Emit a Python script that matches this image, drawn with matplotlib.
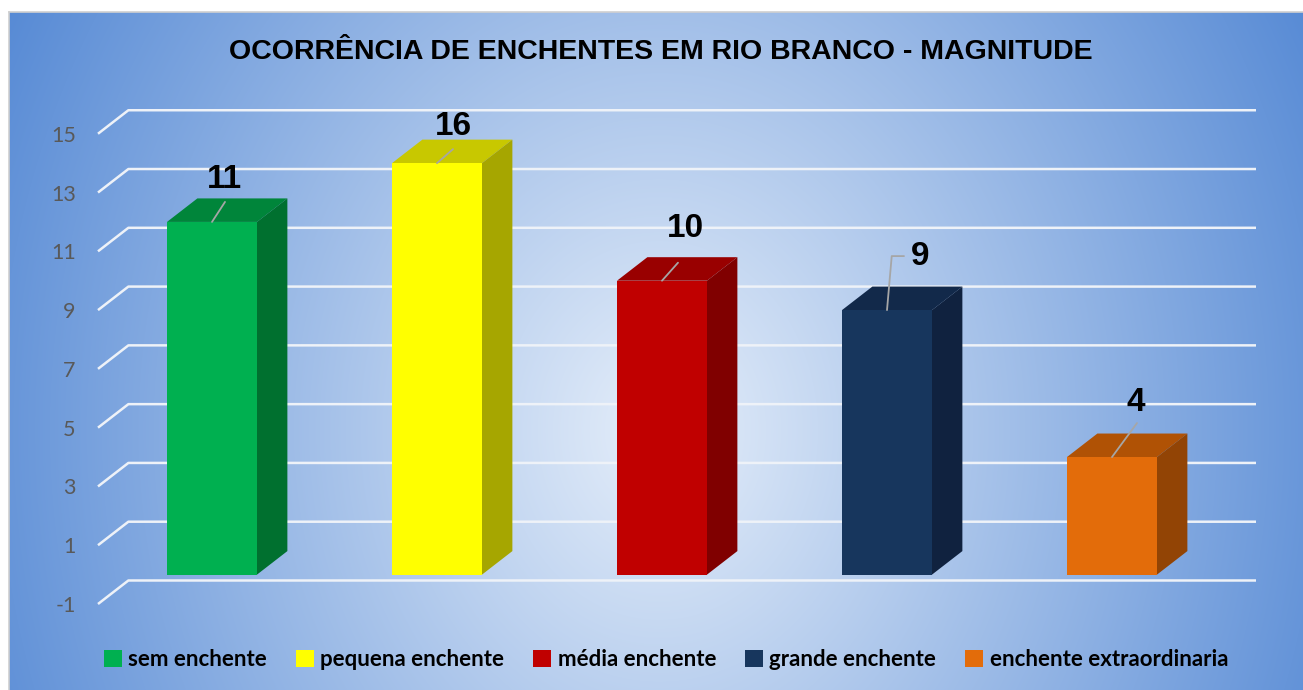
"""Ocorrência de enchentes em Rio Branco - 3D style bar chart."""
import numpy as np
import matplotlib.pyplot as plt
from matplotlib.patches import Polygon, Patch

plt.rcParams["axes.unicode_minus"] = False

# data
categories = ["sem enchente", "pequena enchente", "média enchente",
              "grande enchente", "enchente extraordinaria"]
bar_heights = [12, 14, 10, 9, 4]          # heights as drawn on the axis
label_texts = ["11", "16", "10", "9", "4"]  # data labels as printed
yticks = list(range(-1, 16, 2))

front_colors = ["#00b050", "#ffff00", "#c00000", "#17365d", "#e36c0a"]
top_colors = ["#00853a", "#c8c800", "#990000", "#12294a", "#b05205"]
side_colors = ["#00702f", "#a6a600", "#800000", "#10223f", "#924405"]

# label offsets (pixels) from the top-front centre of each bar
label_offsets = [(12, 42), (16, 37), (23, 52), (33, 54), (24, 55)]
leader_ends = [(13, 20), (16, 14), (16, 18), (17, 54), (25, 34)]

W, H = 1303, 690
fig = plt.figure(figsize=(W / 100, H / 100), dpi=100)

# background gradient
bg = fig.add_axes([9 / W, 0, (W - 9) / W, (H - 12) / H], zorder=-1)
bw, bh = W - 9, H - 12
X, Y = np.meshgrid(np.arange(bw), np.arange(bh))
cx, cy = 650, 418
t = np.sqrt(((X - cx) / 820.0) ** 2 + ((Y - cy) / 980.0) ** 2)
t = np.clip(t, 0, 1)
c0 = np.array([0.90, 0.935, 0.98])
c1 = np.array([0.28, 0.50, 0.82])
img = c0[None, None, :] + (c1 - c0)[None, None, :] * t[:, :, None]
bg.imshow(img, aspect="auto", extent=[0, 1, 0, 1], origin="upper")
bg.set_xticks([])
bg.set_yticks([])
for side in ["right", "bottom"]:
    bg.spines[side].set_visible(False)
for side in ["top", "left"]:
    bg.spines[side].set_color("#d0d0d0")
    bg.spines[side].set_linewidth(1.2)

# main axes: front plane
x_lo, x_hi = (98 - 212) / 225, (1256 - 212) / 225
ax = fig.add_axes([98 / W, (H - 604) / H, (1256 - 98) / W, (604 - 133.75) / H])
ax.patch.set_visible(False)
ax.set_xlim(x_lo, x_hi)
ax.set_ylim(-1, 15)
for s in ax.spines.values():
    s.set_visible(False)
ax.set_xticks([])
ax.set_yticks(yticks)
ax.tick_params(axis="y", length=0, pad=16, labelcolor="#595959", labelsize=15.5)
for lab in ax.get_yticklabels():
    lab.set_fontfamily("Lato")

ddx, ddy = 0.135, 0.8  # depth offset in data units

# gridlines with diagonal floor/wall joins
for v in yticks:
    ax.plot([x_lo, x_lo + ddx, x_hi], [v, v + ddy, v + ddy],
            color="#eef2f8", lw=1.8, zorder=1, clip_on=False,
            solid_capstyle="butt")

# bars
xs = np.arange(len(categories))
bw_ = 0.4
ax.bar(xs, bar_heights, width=bw_, color=front_colors, zorder=4)
for i, h in enumerate(bar_heights):
    l, r = i - bw_ / 2, i + bw_ / 2
    top = Polygon([(l, h), (r, h), (r + ddx, h + ddy), (l + ddx, h + ddy)],
                  closed=True, facecolor=top_colors[i], edgecolor="none",
                  zorder=3, clip_on=False)
    side = Polygon([(r, 0), (r + ddx, ddy), (r + ddx, h + ddy), (r, h)],
                   closed=True, facecolor=side_colors[i], edgecolor="none",
                   zorder=3, clip_on=False)
    ax.add_patch(top)
    ax.add_patch(side)

# data labels with leader lines
for i, h in enumerate(bar_heights):
    conn = "arc3"
    if i == 3:
        conn = "angle,angleA=0,angleB=85,rad=0"
    ax.annotate("", xy=(i, h), xytext=leader_ends[i], textcoords="offset pixels",
                arrowprops=dict(arrowstyle="-", color="#a6a6a6", lw=1.3,
                                shrinkA=0, shrinkB=0, connectionstyle=conn),
                zorder=5, annotation_clip=False)
    ax.annotate(label_texts[i], xy=(i, h), xytext=label_offsets[i],
                textcoords="offset pixels", ha="center", va="center",
                fontsize=24, fontweight="bold", family="Liberation Sans",
                color="black", zorder=6, annotation_clip=False)

# title
fig.text(661 / W, 1 - 52 / H, "OCORRÊNCIA DE ENCHENTES EM RIO BRANCO - MAGNITUDE",
         ha="center", va="center", fontsize=20.5, fontweight="bold",
         family="Liberation Sans", color="black")

# legend
handles = [Patch(facecolor=c, edgecolor="none") for c in front_colors]
leg = fig.legend(handles, categories, loc="center", bbox_to_anchor=(666 / W, 1 - 660 / H),
                 ncol=5, frameon=False, handlelength=0.8, handleheight=0.8,
                 handletextpad=0.3, columnspacing=1.3,
                 prop={"family": "Lato", "weight": "bold", "size": 16})

plt.savefig("out.png", dpi=100)
plt.close()
